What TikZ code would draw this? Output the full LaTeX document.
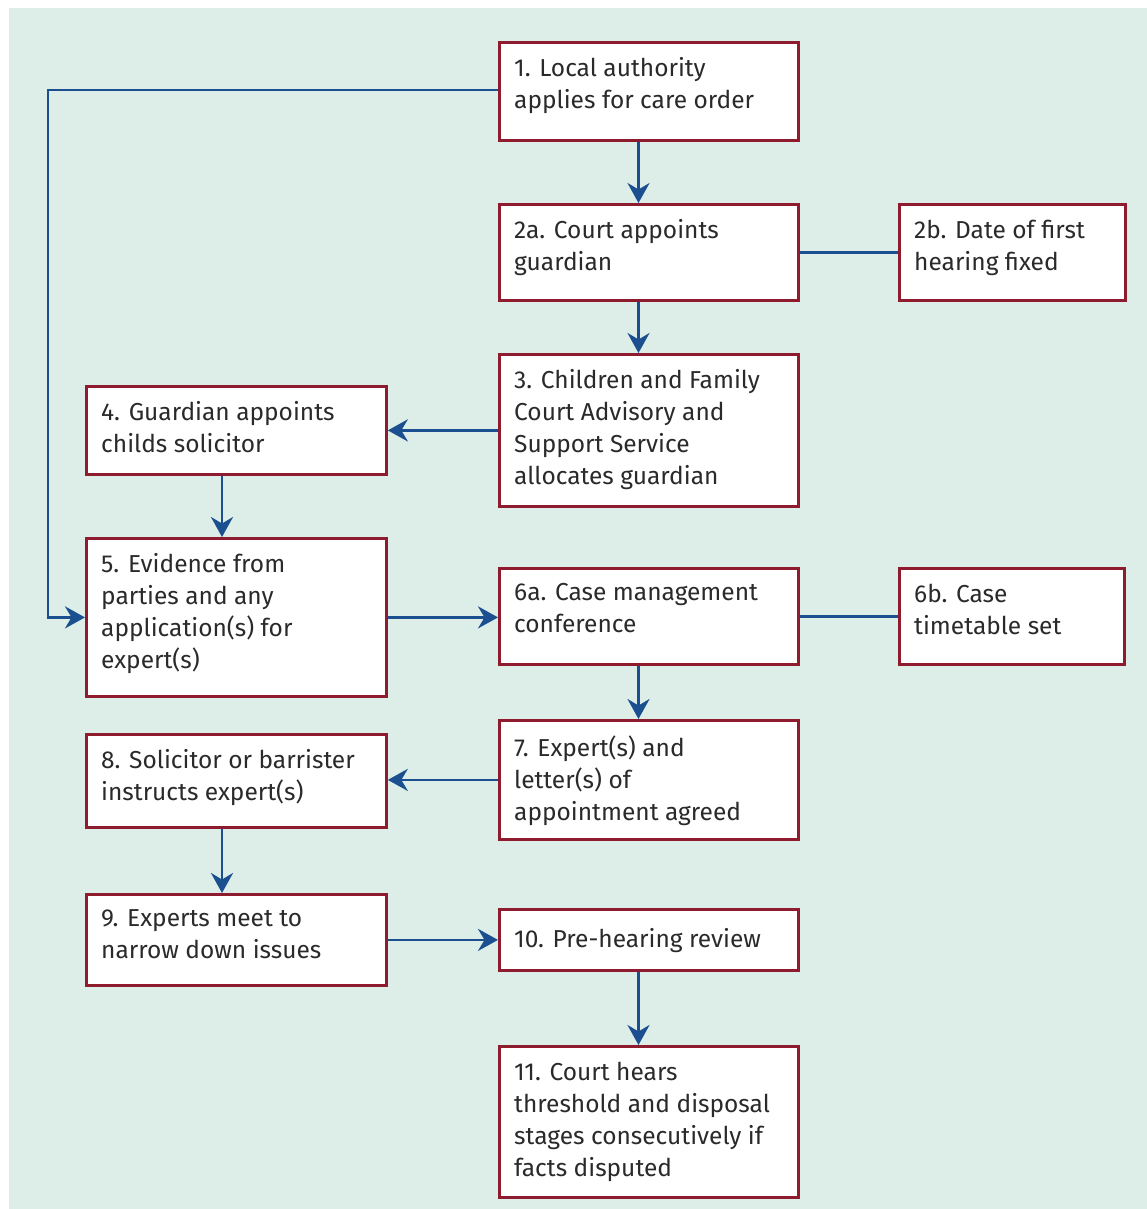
\documentclass[tikz,border=0pt]{standalone}
\usepackage{fontspec}
\setmainfont{Fira Sans}
\usetikzlibrary{arrows.meta}
\definecolor{bg}{HTML}{DDEEE8}
\definecolor{boxred}{HTML}{8E1B2E}
\definecolor{lineblue}{HTML}{1B4F8F}
\definecolor{txtgrey}{HTML}{2A2A2A}
\begin{document}
\begin{tikzpicture}[x=1pt,y=-1pt,
  stepbox/.style={draw=boxred, fill=white, line width=2.8pt, anchor=north west, inner sep=0pt},
  txt/.style={anchor=north west, inner sep=0pt, align=left, text=txtgrey,
    font=\fontsize{24.5}{32}\selectfont, execute at begin node=\strut},
  arr/.style={draw=lineblue, line width=2.8pt, -{Stealth[length=20pt,width=22pt]}},
  conn/.style={draw=lineblue, line width=2.8pt}]
\useasboundingbox (0,0) rectangle (1147,1209);
\fill[bg] (9,8) rectangle (1147,1209);
% boxes
\node[stepbox, minimum width=299, minimum height=98] (n1) at (498,41) {};
\node[stepbox, minimum width=299, minimum height=96] (n2a) at (498,203) {};
\node[stepbox, minimum width=226, minimum height=96] (n2b) at (898,203) {};
\node[stepbox, minimum width=299, minimum height=152] (n3) at (498,353) {};
\node[stepbox, minimum width=300, minimum height=88] (n4) at (85,385) {};
\node[stepbox, minimum width=300, minimum height=158] (n5) at (85,537) {};
\node[stepbox, minimum width=299, minimum height=96] (n6a) at (498,567) {};
\node[stepbox, minimum width=225, minimum height=96] (n6b) at (898,567) {};
\node[stepbox, minimum width=299, minimum height=119] (n7) at (498,719) {};
\node[stepbox, minimum width=300, minimum height=93] (n8) at (85,733) {};
\node[stepbox, minimum width=300, minimum height=91] (n9) at (85,893) {};
\node[stepbox, minimum width=299, minimum height=61] (n10) at (498,908) {};
\node[stepbox, minimum width=299, minimum height=151] (n11) at (498,1045) {};
% texts
\node[txt] (t1) at ([shift={(16,16.5)}]n1.north west) {1. Local authority\\applies for care order};
\node[txt] (t2a) at ([shift={(16,16.5)}]n2a.north west) {2a. Court appoints\\guardian};
\node[txt] (t2b) at ([shift={(16,16.5)}]n2b.north west) {2b. Date of first\\hearing fixed};
\node[txt] (t3) at ([shift={(16,16.5)}]n3.north west) {3. Children and Family\\Court Advisory and\\Support Service\\allocates guardian};
\node[txt] (t4) at ([shift={(16,16.5)}]n4.north west) {4. Guardian appoints\\childs solicitor};
\node[txt] (t5) at ([shift={(16,16.5)}]n5.north west) {5. Evidence from\\parties and any\\application(s) for\\expert(s)};
\node[txt] (t6a) at ([shift={(16,16.5)}]n6a.north west) {6a. Case management\\conference};
\node[txt] (t6b) at ([shift={(16,16.5)}]n6b.north west) {6b. Case\\timetable set};
\node[txt] (t7) at ([shift={(16,16.5)}]n7.north west) {7. Expert(s) and\\letter(s) of\\appointment agreed};
\node[txt] (t8) at ([shift={(16,16.5)}]n8.north west) {8. Solicitor or barrister\\instructs expert(s)};
\node[txt] (t9) at ([shift={(16,16.5)}]n9.north west) {9. Experts meet to\\narrow down issues};
\node[txt] (t10) at ([shift={(16,16.5)}]n10.north west) {10. Pre-hearing review};
\node[txt] (t11) at ([shift={(16,16.5)}]n11.north west) {11. Court hears\\threshold and disposal\\stages consecutively if\\facts disputed};
% helper coordinates
\coordinate (ax) at (638.5,0);
\coordinate (bx) at (222,0);
\coordinate (c1) at (48,90);
% connectors
\draw[arr] (n1.south -| ax) -- (n2a.north -| ax);
\draw[conn] (n2a.east) -- (n2b.west);
\draw[arr] (n2a.south -| ax) -- (n3.north -| ax);
\draw[arr] (n3.west) -- (n4.east |- n3.west);
\draw[arr] (n4.south -| bx) -- (n5.north -| bx);
\draw[arr] (n1.west |- c1) -- (c1) |- (n5.west);
\draw[arr] (n5.east) -- (n6a.west |- n5.east);
\draw[conn] (n6a.east) -- (n6b.west);
\draw[arr] (n6a.south -| ax) -- (n7.north -| ax);
\draw[arr] (n7.west) -- (n8.east |- n7.west);
\draw[arr] (n8.south -| bx) -- (n9.north -| bx);
\draw[arr] (n9.east) -- (n10.west |- n9.east);
\draw[arr] (n10.south -| ax) -- (n11.north -| ax);
\end{tikzpicture}
\end{document}
